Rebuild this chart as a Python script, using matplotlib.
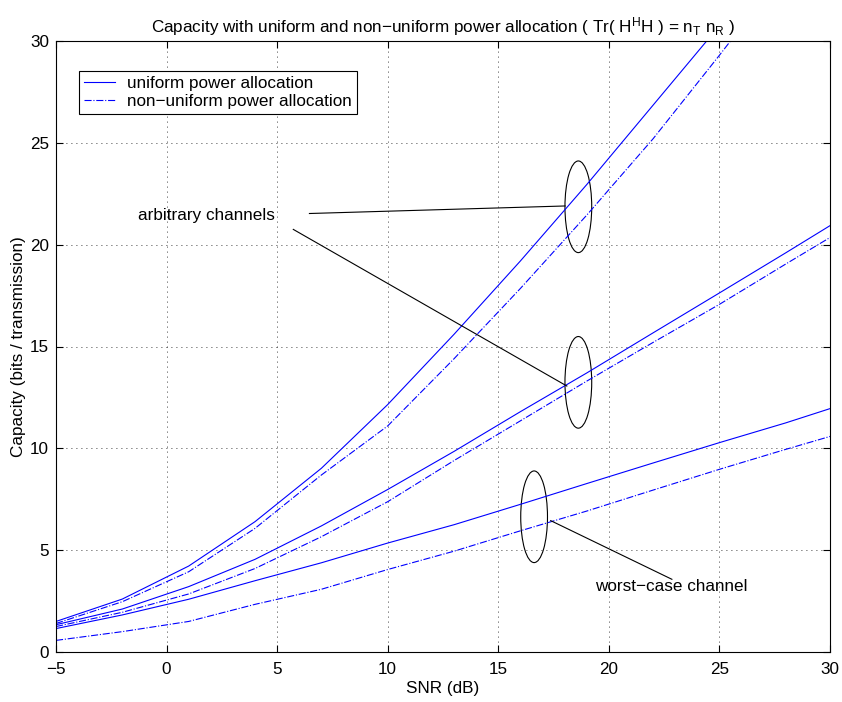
import matplotlib.pyplot as plt
from matplotlib.patches import Ellipse

plt.rcParams['font.family'] = ['Liberation Sans', 'DejaVu Sans']
plt.rcParams['mathtext.default'] = 'regular'

snr_db = [-5, -2, 1, 4, 7, 10, 13, 16, 19, 22, 25, 28, 31]

# arbitrary channel A (upper pair)
cap_a_uniform = [1.50, 2.60, 4.22, 6.40, 9.02, 12.15, 15.60, 19.20, 22.95, 26.85, 30.75, 34.90, 39.20]
cap_a_nonuniform = [1.40, 2.47, 3.94, 6.07, 8.69, 11.10, 14.40, 17.85, 21.45, 25.20, 29.30, 33.50, 37.80]

# arbitrary channel B (middle pair)
cap_b_uniform = [1.34, 2.11, 3.21, 4.55, 6.19, 7.98, 9.85, 11.80, 13.70, 15.67, 17.63, 19.60, 21.60]
cap_b_nonuniform = [1.25, 1.95, 2.85, 4.10, 5.66, 7.38, 9.40, 11.35, 13.30, 15.20, 17.07, 19.05, 21.00]

# worst-case channel (lower pair)
cap_w_uniform = [1.15, 1.82, 2.59, 3.50, 4.38, 5.35, 6.25, 7.25, 8.27, 9.28, 10.28, 11.25, 12.30]
cap_w_nonuniform = [0.57, 1.00, 1.50, 2.34, 3.08, 4.05, 4.95, 5.95, 6.92, 7.95, 8.97, 9.95, 10.90]

blue = (0, 0, 1)
lw = 0.8
fs = 12.3

fig = plt.figure(figsize=(8.42, 7.02), dpi=100)
ax = fig.add_axes([56 / 842, 50 / 702, 774 / 842, 611 / 702])

h_uni, = ax.plot(snr_db, cap_a_uniform, '-', color=blue, lw=lw, label='uniform power allocation')
h_non, = ax.plot(snr_db, cap_a_nonuniform, '-.', color=blue, lw=lw, label='non\u2212uniform power allocation')
ax.plot(snr_db, cap_b_uniform, '-', color=blue, lw=lw)
ax.plot(snr_db, cap_b_nonuniform, '-.', color=blue, lw=lw)
ax.plot(snr_db, cap_w_uniform, '-', color=blue, lw=lw)
ax.plot(snr_db, cap_w_nonuniform, '-.', color=blue, lw=lw)

# annotations: ellipses grouping the curve pairs
for cx, cy in [(18.62, 21.86), (18.62, 13.24), (16.62, 6.64)]:
    ax.add_patch(Ellipse((cx, cy), 1.21, 4.5, fill=False, ec='black', lw=0.8))

ax.plot([6.46, 18.02], [21.53, 21.90], color='black', lw=0.8)
ax.plot([5.73, 18.10], [20.75, 13.06], color='black', lw=0.8)
ax.plot([17.37, 22.85], [6.45, 3.57], color='black', lw=0.8)
ax.text(-1.28, 21.45, 'arbitrary channels', fontsize=fs, ha='left', va='center')
ax.text(19.38, 3.21, 'worst\u2212case channel', fontsize=fs, ha='left', va='center')

ax.set_xlim(-5, 30)
ax.set_ylim(0, 30)
ax.set_xticks(range(-5, 31, 5))
ax.set_yticks(range(0, 31, 5))
ax.tick_params(direction='in', length=5, width=0.8, top=True, right=True, labelsize=fs)
ax.tick_params(axis='x', pad=7)
ax.tick_params(axis='y', pad=5)
ax.grid(True, linestyle=(0, (1, 5)), color='black', lw=0.6)
for s in ax.spines.values():
    s.set_linewidth(0.8)

ax.set_xlabel('SNR (dB)', fontsize=fs, labelpad=3)
ax.set_ylabel('Capacity (bits / transmission)', fontsize=fs, labelpad=3)
ax.set_title('Capacity with uniform and non\u2212uniform power allocation ( Tr( H$^H$H ) = n$_T$ n$_R$ )',
             fontsize=fs, pad=6)

leg = ax.legend(handles=[h_uni, h_non], loc='upper left', bbox_to_anchor=(0.030, 0.951),
                borderaxespad=0, fontsize=fs, fancybox=False, framealpha=1,
                edgecolor='black', handlelength=1.8, handletextpad=0.7,
                borderpad=0.3, labelspacing=0.15)
leg.get_frame().set_linewidth(0.8)

fig.savefig('out.png', dpi=100)
